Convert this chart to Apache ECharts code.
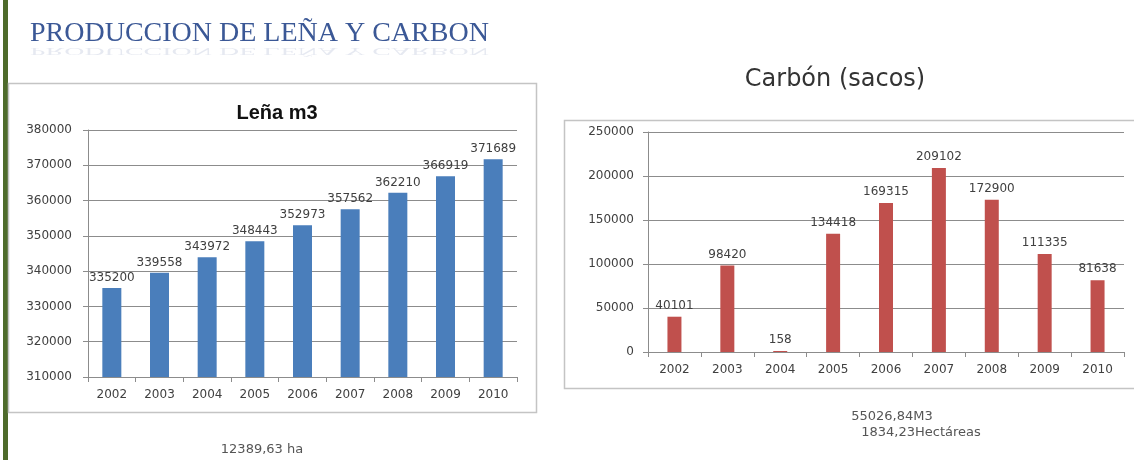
<!DOCTYPE html>
<html>
<head>
<meta charset="utf-8">
<script src="https://cdn.jsdelivr.net/npm/echarts@6/dist/echarts.min.js"></script>
<style>
  html, body { margin: 0; padding: 0; background: #fff; }
  #charts { width: 1134px; height: 460px; }
</style>
</head>
<body>
<div id="charts"></div>
<script>
// datos
var years = ["2002", "2003", "2004", "2005", "2006", "2007", "2008", "2009", "2010"];
var lenaValues = [335200, 339558, 343972, 348443, 352973, 357562, 362210, 366919, 371689];
var carbonValues = [40101, 98420, 158, 134418, 169315, 209102, 172900, 111335, 81638];

var lenaNote = "12389,63 ha";
var carbonNotes = ["55026,84M3", "1834,23Hectáreas"];

var txt = "#404040";
var small = { fontFamily: "DejaVu Sans", fontSize: 12, color: txt };
var plain = function (v) { return String(v); };

var myChart = echarts.init(document.getElementById("charts"), null, { renderer: "canvas" });

var option = {
  backgroundColor: "#fff",
  animation: false,
  title: [
    {
      text: "Leña m3",
      left: 272, top: 98,
      textAlign: "center",
      textStyle: { fontFamily: "Liberation Sans", fontWeight: "bold", fontSize: 20, color: "#111" }
    },
    {
      text: "Carbón (sacos)",
      left: 830, top: 63,
      textAlign: "center",
      textStyle: { fontFamily: "DejaVu Sans", fontWeight: "normal", fontSize: 24, color: "#333" }
    }
  ],
  graphic: [
    // barra verde izquierda
    { type: "rect", shape: { x: 3, y: 0, width: 5, height: 460 }, style: { fill: "#4e6b2b" }, z: 0 },
    // marcos de los graficos
    { type: "rect", shape: { x: 8.5, y: 83.5, width: 528, height: 329 }, style: { fill: "none", stroke: "#c4c4c4", lineWidth: 1.5 }, z: 0 },
    { type: "rect", shape: { x: 564.5, y: 120.5, width: 575, height: 268 }, style: { fill: "none", stroke: "#c4c4c4", lineWidth: 1.5 }, z: 0 },
    // titulo principal y su reflejo
    {
      type: "text", left: 30, top: 20,
      style: { text: "PRODUCCION DE LEÑA Y CARBON", font: "28px 'Liberation Serif'", fill: "#3b5896" }
    },
    {
      type: "text", x: 30, y: 57, scaleY: -0.4,
      style: { text: "PRODUCCION DE LEÑA Y CARBON", font: "28px 'Liberation Serif'", fill: "#3b5896", opacity: 0.13 }
    },
    // letra cortada arriba
    { type: "text", x: 830, y: -20, style: { text: "y", font: "bold 20px 'Liberation Sans'", fill: "#222" } },
    // notas
    { type: "text", x: 262, y: 450, style: { text: lenaNote, font: "13px 'DejaVu Sans'", fill: "#555", align: "center", verticalAlign: "middle" } },
    { type: "text", x: 892, y: 417, style: { text: carbonNotes[0], font: "13px 'DejaVu Sans'", fill: "#555", align: "center", verticalAlign: "middle" } },
    { type: "text", x: 921, y: 433, style: { text: carbonNotes[1], font: "13px 'DejaVu Sans'", fill: "#555", align: "center", verticalAlign: "middle" } }
  ],
  grid: [
    { left: 88, right: 617, top: 130, bottom: 83 },
    { left: 648, right: 10, top: 132, bottom: 108 }
  ],
  xAxis: [0, 1].map(function (i) {
    return {
      type: "category",
      gridIndex: i,
      data: years,
      axisLine: { lineStyle: { color: "#8c8c8c" } },
      axisTick: { show: true, length: 5, lineStyle: { color: "#8c8c8c" } },
      axisLabel: Object.assign({ margin: 12 }, small)
    };
  }),
  yAxis: [
    {
      type: "value", gridIndex: 0,
      min: 310000, max: 380000, interval: 10000,
      axisLine: { show: true, lineStyle: { color: "#8c8c8c" } },
      axisTick: { show: true, length: 5, lineStyle: { color: "#8c8c8c" } },
      splitLine: { lineStyle: { color: "#8c8c8c" } },
      axisLabel: Object.assign({ margin: 16, formatter: plain }, small)
    },
    {
      type: "value", gridIndex: 1,
      min: 0, max: 250000, interval: 50000,
      axisLine: { show: true, lineStyle: { color: "#8c8c8c" } },
      axisTick: { show: true, length: 5, lineStyle: { color: "#8c8c8c" } },
      splitLine: { lineStyle: { color: "#8c8c8c" } },
      axisLabel: Object.assign({ margin: 14, formatter: plain }, small)
    }
  ],
  series: [
    {
      type: "bar",
      xAxisIndex: 0, yAxisIndex: 0,
      data: lenaValues,
      barWidth: 19,
      itemStyle: { color: "#4a7ebb" },
      label: Object.assign({ show: true, position: "top", distance: 4 }, small)
    },
    {
      type: "bar",
      xAxisIndex: 1, yAxisIndex: 1,
      data: carbonValues,
      barWidth: 14,
      barMinHeight: 1,
      itemStyle: { color: "#c0504d" },
      label: Object.assign({ show: true, position: "top", distance: 5 }, small)
    }
  ]
};

myChart.setOption(option);

window.addEventListener("resize", function () {
  myChart.resize();
});
</script>
</body>
</html>
